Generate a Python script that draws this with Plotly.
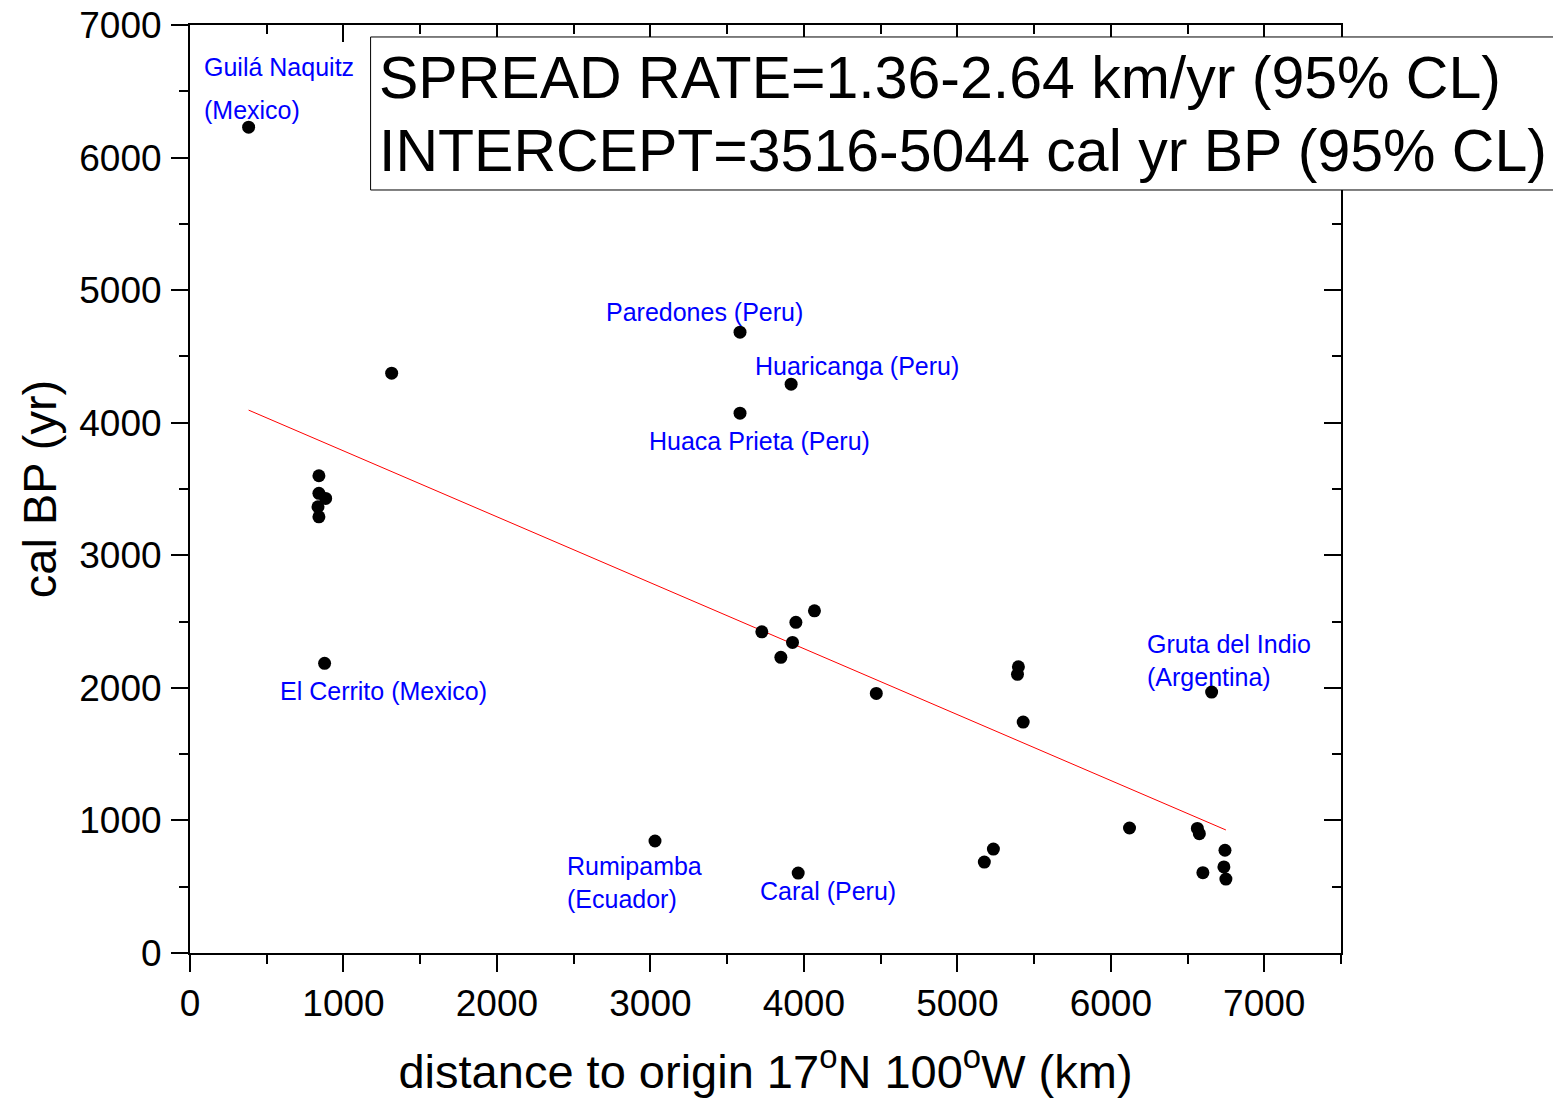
import plotly.graph_objects as go

# ---- data ----
distance_km = [382, 1314, 840, 840, 884, 834, 840, 877, 3584, 3917, 3584,
               3726, 3948, 4069, 3926, 3850, 4472, 3030, 3963, 5398, 5392,
               5429, 5176, 5235, 6122, 6564, 6577, 6744, 6600, 6737, 6750, 6657]
cal_bp = [6229, 4374, 3600, 3467, 3429, 3366, 3290, 2185, 4683, 4291, 4072,
          2423, 2494, 2581, 2343, 2230, 1958, 845, 603, 2159, 2102,
          1742, 686, 784, 943, 940, 900, 775, 606, 649, 558, 1968]

fit_x = [382, 6750]
fit_y = [4095, 928]

site_labels = ["Guilá Naquitz", "(Mexico)", "Paredones (Peru)", "Huaricanga (Peru)",
               "Huaca Prieta (Peru)", "El Cerrito (Mexico)", "Rumipamba", "(Ecuador)",
               "Caral (Peru)", "Gruta del Indio", "(Argentina)"]
label_x = [75, 75, 2697, 3669, 2978, 571, 2443, 2443, 3702, 6220, 6220]
label_y = [6682, 6357, 4834, 4427, 3861, 1976, 656, 407, 468, 2330, 2081]

box_lines = ["SPREAD RATE=1.36-2.64 km/yr (95% CL)",
             "INTERCEPT=3516-5044 cal yr BP (95% CL)"]

x_ticks = [0, 1000, 2000, 3000, 4000, 5000, 6000, 7000]
y_ticks = [0, 1000, 2000, 3000, 4000, 5000, 6000, 7000]

FONT = "Liberation Sans, Arial, sans-serif"

fig = go.Figure()
fig.add_trace(go.Scatter(x=fit_x, y=fit_y, mode="lines",
                         line=dict(color="#ff0000", width=1), showlegend=False))
fig.add_trace(go.Scatter(x=distance_km, y=cal_bp, mode="markers",
                         marker=dict(color="black", size=13), showlegend=False))
# dummy trace for mirrored axes
fig.add_trace(go.Scatter(x=[None], y=[None], xaxis="x2", yaxis="y2",
                         showlegend=False, hoverinfo="skip"))

for t, x, y in zip(site_labels, label_x, label_y):
    fig.add_annotation(x=x, y=y, text=t, showarrow=False, xanchor="left",
                       yanchor="middle", font=dict(family=FONT, size=25, color="#0000ff"))

# text box
fig.add_shape(type="rect", xref="paper", yref="paper", x0=0.1569, x1=1.2,
              y0=0.8222, y1=0.9871, line=dict(color="black", width=1),
              fillcolor="white", layer="above")
for t, y in zip(box_lines, [0.9432, 0.8637]):
    fig.add_annotation(xref="paper", yref="paper", x=0.1625, y=y, text=t,
                       showarrow=False, xanchor="left", yanchor="middle",
                       font=dict(family=FONT, size=59, color="black"))

axis_common = dict(showgrid=False, zeroline=False, showline=True, automargin=False,
                   linecolor="black", linewidth=2, tickcolor="black",
                   tickwidth=2, ticklen=17,
                   tickfont=dict(family=FONT, size=37, color="black"))

fig.update_layout(
    width=1553, height=1098,
    margin=dict(l=190, r=212, t=25, b=145),
    plot_bgcolor="white", paper_bgcolor="white",
    font=dict(family=FONT, color="black"),
    xaxis=dict(range=[0, 7500], tickvals=x_ticks, ticks="outside",
               minor=dict(dtick=500, ticklen=9, tickwidth=2, tickcolor="black", ticks="outside"),
               title=dict(text="distance to origin 17<sup>o</sup>N 100<sup>o</sup>W (km)",
                          font=dict(family=FONT, size=47), standoff=32),
               **axis_common),
    yaxis=dict(range=[0, 7000], tickvals=y_ticks, ticks="outside", ticklabelstandoff=2,
               minor=dict(dtick=500, ticklen=9, tickwidth=2, tickcolor="black", ticks="outside"),
               title=dict(text="cal BP (yr)", font=dict(family=FONT, size=47), standoff=8),
               **axis_common),
    xaxis2=dict(range=[0, 7500], overlaying="x", side="top", tickvals=x_ticks,
                ticks="inside", showticklabels=False,
                minor=dict(dtick=500, ticklen=9, tickwidth=2, tickcolor="black", ticks="inside"),
                **axis_common),
    yaxis2=dict(range=[0, 7000], overlaying="y", side="right", tickvals=y_ticks,
                ticks="inside", showticklabels=False,
                minor=dict(dtick=500, ticklen=9, tickwidth=2, tickcolor="black", ticks="inside"),
                **axis_common),
)

fig.write_html("out.html")
